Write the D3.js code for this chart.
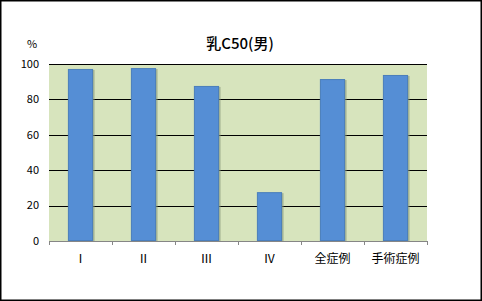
<!DOCTYPE html>
<html>
<head>
<meta charset="utf-8">
<script src="https://cdn.jsdelivr.net/npm/d3@7"></script>
<style>
body { margin: 0; background: #fff; }
text { font-family: "Noto Sans CJK JP", "DejaVu Sans", sans-serif; }
</style>
</head>
<body>
<div id="viz"></div>
<script>
var categories = ["Ⅰ", "Ⅱ", "Ⅲ", "Ⅳ", "全症例", "手術症例"];
var values = [97.2, 97.7, 87.6, 27.6, 91.5, 93.8];
var yTicks = [0, 20, 40, 60, 80, 100];

var W = 482, H = 301;
var margin = {top: 64, right: 55, bottom: 60, left: 49};
var width = W - margin.left - margin.right;
var height = H - margin.top - margin.bottom;

var svg = d3.select("#viz").append("svg")
    .attr("width", W)
    .attr("height", H);

// outer frame
svg.append("rect")
    .attr("x", 0.75).attr("y", 0.75)
    .attr("width", W - 1.5).attr("height", H - 1.5)
    .attr("fill", "#fff")
    .attr("stroke", "#000")
    .attr("stroke-width", 1.5);

var g = svg.append("g")
    .attr("transform", "translate(" + margin.left + "," + margin.top + ")");

var x = d3.scaleBand().domain(categories).range([0, width]).paddingInner(0.6).paddingOuter(0.3);
var y = d3.scaleLinear().domain([0, 100]).range([height, 0]);

g.append("rect")
    .attr("width", width).attr("height", height)
    .attr("fill", "#d7e4bd");

// gridlines
g.selectAll(".grid")
    .data(yTicks.filter(function(d){ return d > 0; }))
    .enter().append("line")
    .attr("x1", 0).attr("x2", width)
    .attr("y1", function(d){ return Math.round(y(d)) + 0.5; })
    .attr("y2", function(d){ return Math.round(y(d)) + 0.5; })
    .attr("stroke", "#000")
    .attr("stroke-width", 1);

// bar shadows
g.selectAll(".shadow")
    .data(values)
    .enter().append("rect")
    .attr("x", function(d, i){ return x(categories[i]) + 1.5; })
    .attr("y", function(d){ return y(d) + 1; })
    .attr("width", x.bandwidth())
    .attr("height", function(d){ return height - y(d) - 1; })
    .attr("fill", "#8a9a7a")
    .attr("opacity", 0.6);

g.selectAll(".bar")
    .data(values)
    .enter().append("rect")
    .attr("class", "bar")
    .attr("x", function(d, i){ return x(categories[i]) + 0.5; })
    .attr("y", function(d){ return y(d) + 0.5; })
    .attr("width", x.bandwidth() - 1)
    .attr("height", function(d){ return height - y(d) - 1; })
    .attr("fill", "#558ed5")
    .attr("stroke", "#4a7ebb")
    .attr("stroke-width", 1);

// y labels
g.selectAll(".ylab")
    .data(yTicks)
    .enter().append("text")
    .attr("x", -10)
    .attr("y", function(d){ return y(d); })
    .attr("dy", "0.35em")
    .attr("text-anchor", "end")
    .attr("font-size", 11)
    .attr("fill", "#000")
    .text(function(d){ return d; });

// x axis
var x2 = d3.scaleLinear().domain([0, categories.length]).range([0, width]);
var xAxis = g.append("g")
    .attr("transform", "translate(0," + height + ")")
    .call(d3.axisBottom(x2).tickValues(d3.range(categories.length + 1)).tickSize(4).tickFormat(""));
xAxis.selectAll("path, line").attr("stroke", "#868686");

g.selectAll(".xlab")
    .data(categories)
    .enter().append("text")
    .attr("x", function(d){ return x(d) + x.bandwidth() / 2; })
    .attr("y", height + 22)
    .attr("text-anchor", "middle")
    .attr("font-size", 12)
    .attr("fill", "#000")
    .text(function(d){ return d; });

svg.append("text")
    .attr("x", 240).attr("y", 49)
    .attr("text-anchor", "middle")
    .attr("font-size", 15)
    .attr("font-weight", 500)
    .text("乳C50(男)");

svg.append("text")
    .attr("x", 32).attr("y", 48)
    .attr("text-anchor", "middle")
    .attr("font-size", 11)
    .text("%");
</script>
</body>
</html>
